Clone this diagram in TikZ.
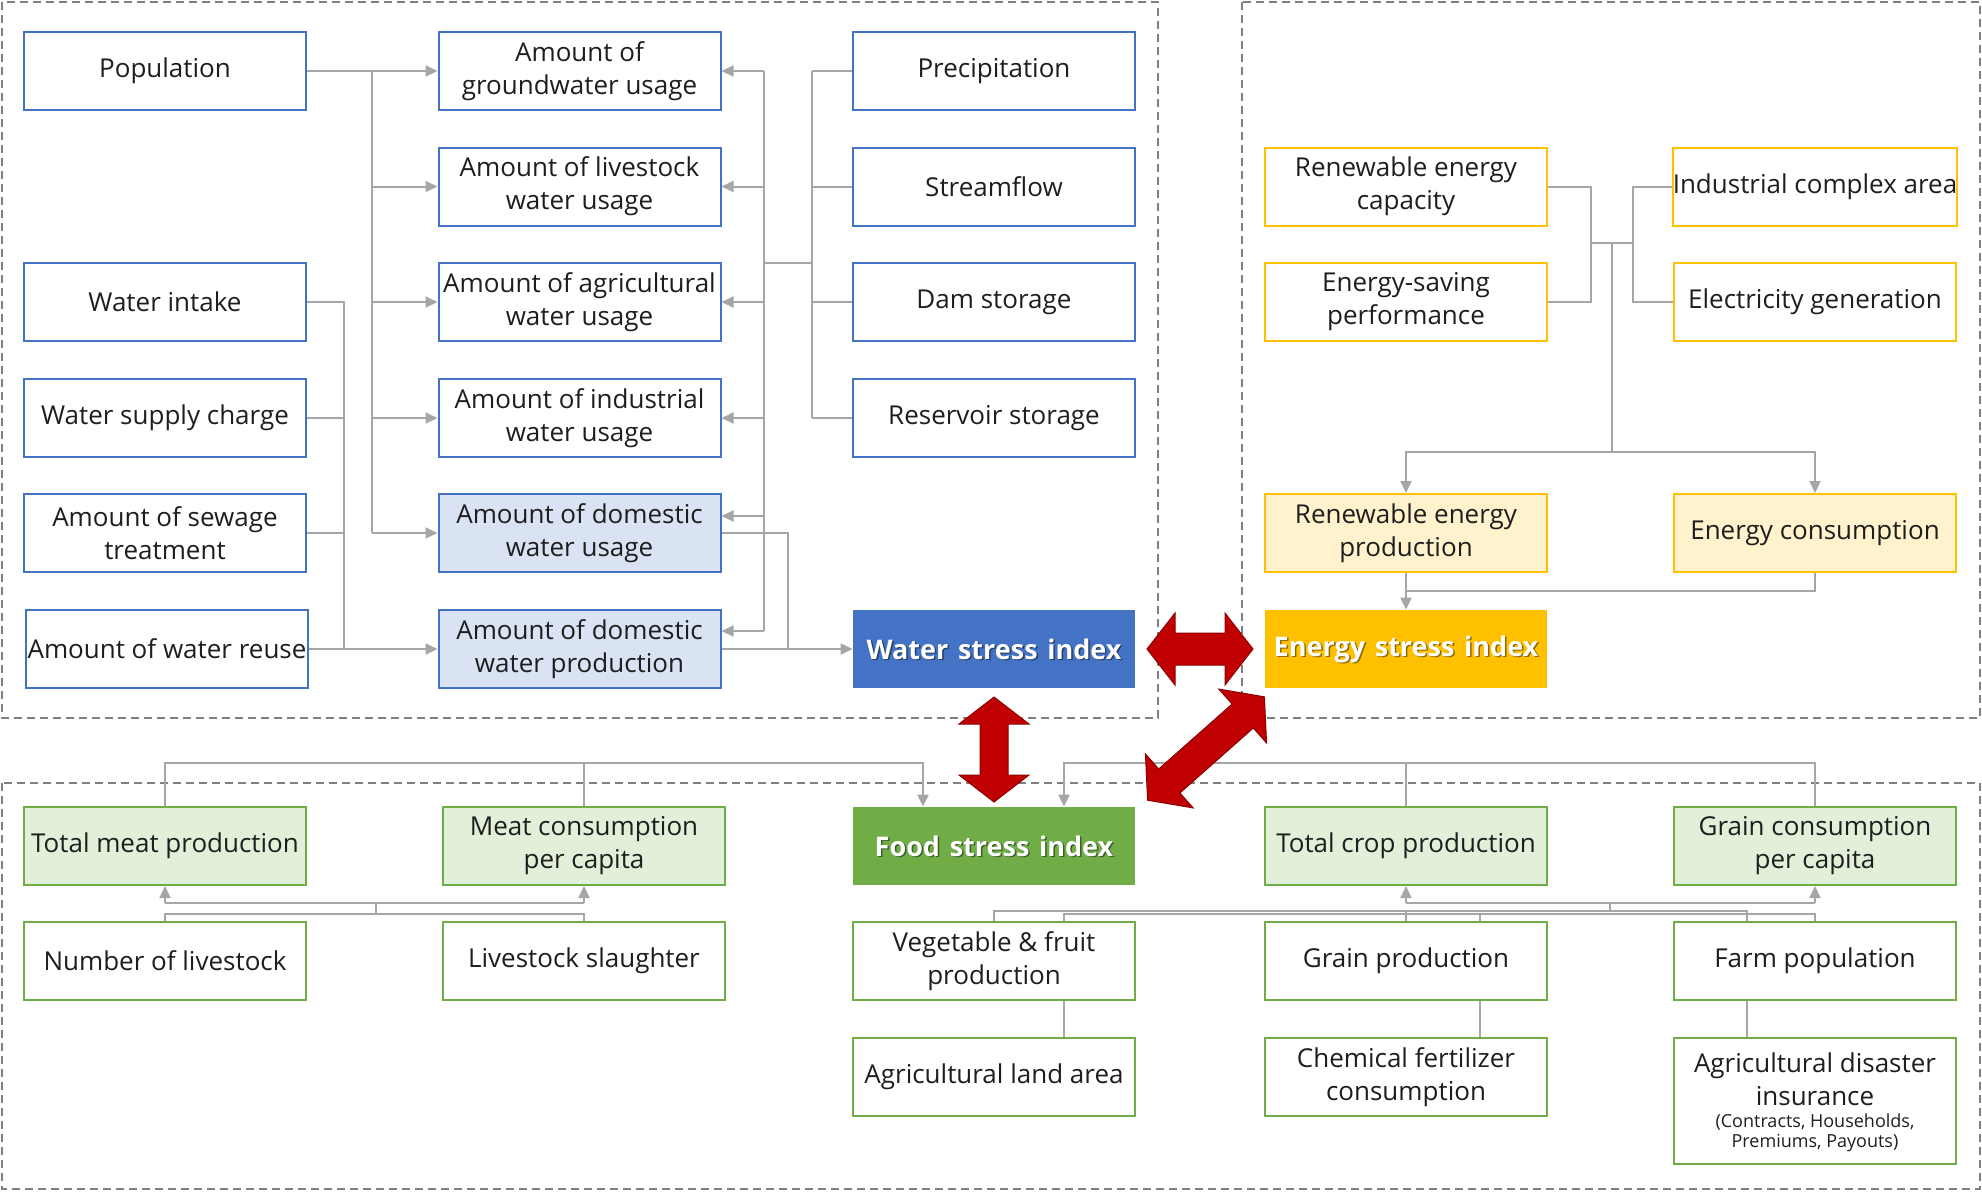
\documentclass[tikz,border=0pt]{standalone}
\usepackage{fontspec}
\setmainfont{Open Sans}
\usetikzlibrary{arrows.meta,calc}
\definecolor{wblue}{HTML}{4472C4}
\definecolor{wlight}{HTML}{DAE3F3}
\definecolor{eyel}{HTML}{FFC000}
\definecolor{elight}{HTML}{FFF2CC}
\definecolor{fgreen}{HTML}{70AD47}
\definecolor{flight}{HTML}{E2F0D9}
\definecolor{connc}{HTML}{A6A6A6}
\definecolor{bigred}{HTML}{C00000}
\definecolor{bigredd}{HTML}{8E0000}
\definecolor{framec}{HTML}{808080}
\definecolor{txtc}{HTML}{1E1E1E}
\tikzset{
  box/.style={draw, line width=1pt, minimum width=141pt, minimum height=39pt,
    align=center, inner sep=0pt, text=txtc, font=\fontsize{13}{16.5}\selectfont},
  wbox/.style={box, draw=wblue, fill=white},
  wboxl/.style={box, draw=wblue, fill=wlight},
  ebox/.style={box, draw=eyel, fill=white},
  eboxl/.style={box, draw=eyel, fill=elight},
  fbox/.style={box, draw=fgreen, fill=white},
  fboxl/.style={box, draw=fgreen, fill=flight},
  idxbox/.style={minimum width=141pt, minimum height=39pt, inner sep=0pt},
  idxtext/.style={text=white, inner sep=0pt, font=\fontsize{13.5}{16}\selectfont\bfseries},
  idxshadow/.style={text=black, opacity=0.45, inner sep=0pt, font=\fontsize{13.5}{16}\selectfont\bfseries},
  txt/.style={align=center, inner sep=0pt, text=txtc, font=\fontsize{13}{16.5}\selectfont},
  smalltxt/.style={align=center, inner sep=0pt, text=txtc, font=\fontsize{9}{10}\selectfont},
  line/.style={draw=connc, line width=1pt},
  arr/.style={line, -{Triangle[length=6pt,width=5.5pt]}},
  frm/.style={draw=framec, line width=0.6pt, dash pattern=on 4pt off 2.5pt},
  pics/redarrow/.style n args={4}{code={
    \filldraw[fill=bigred, draw=bigredd, line width=0.5pt]
      (-#1,0) -- (-#1+#2,#3) -- (-#1+#2,#4) -- (#1-#2,#4) -- (#1-#2,#3) -- (#1,0)
      -- (#1-#2,-#3) -- (#1-#2,-#4) -- (-#1+#2,-#4) -- (-#1+#2,-#3) -- cycle;
  }}
}
\newcommand{\wsp}{\hspace{0.36em}}
\begin{document}
\begin{tikzpicture}[x=0.5pt, y={(0pt,-0.5pt)}]
\useasboundingbox (0,0) rectangle (1982,1191);

% frames
\draw[frm] (2,2) rectangle (1158,718);
\draw[frm] (1242,2) rectangle (1980,718);
\draw[frm] (2,783) rectangle (1980,1189);

% ---------- water ----------
\node[wbox] (pop) at (165,71) {Population};
\node[wbox] (intake) at (165,302) {Water intake};
\node[wbox] (charge) at (165,418) {Water supply charge};
\node[wbox] (sewage) at (165,533) {Amount of sewage\\treatment};
\node[wbox] (reuse) at (167,649) {Amount of water reuse};
\node[wbox] (gw) at (579.5,71) {Amount of\\groundwater usage};
\node[wbox] (lsw) at (579.5,186.5) {Amount of livestock\\water usage};
\node[wbox] (agw) at (579.5,302) {Amount of agricultural\\water usage};
\node[wbox] (inw) at (579.5,418) {Amount of industrial\\water usage};
\node[wboxl] (dom) at (579.5,533) {Amount of domestic\\water usage};
\node[wboxl] (prod) at (579.5,649) {Amount of domestic\\water production};
\node[wbox] (prec) at (994,71) {Precipitation};
\node[wbox] (stream) at (994,186.5) {Streamflow};
\node[wbox] (dam) at (994,302) {Dam storage};
\node[wbox] (res) at (994,418) {Reservoir storage};
\node[idxbox, fill=wblue] (wsi) at (994,649) {};
\node[idxshadow] (wsis) at ($(wsi.center)+(1.5,1.5)$) {Water\wsp stress\wsp index};
\node[idxtext] (wsit) at (wsi.center) {Water\wsp stress\wsp index};

% ---------- energy ----------
\node[ebox] (rec) at (1406,186.5) {Renewable energy\\capacity};
\node[ebox] (esp) at (1406,302) {Energy-saving\\performance};
\node[ebox] (ica) at (1815,186.5) {Industrial complex area};
\node[ebox] (elg) at (1815,302) {Electricity generation};
\node[eboxl] (rep) at (1406,533) {Renewable energy\\production};
\node[eboxl] (ecn) at (1815,533) {Energy consumption};
\node[idxbox, fill=eyel] (esi) at (1406,649) {};
\node[idxshadow] (esis) at ($(esi.center)+(1.5,1.5)$) {Energy\wsp stress\wsp index};
\node[idxtext] (esit) at (esi.center) {Energy\wsp stress\wsp index};

% ---------- food ----------
\node[fboxl] (tmp) at (165,846) {Total meat production};
\node[fboxl] (mcp) at (584,846) {Meat consumption\\per capita};
\node[idxbox, fill=fgreen] (fsi) at (994,846) {};
\node[idxshadow] (fsis) at ($(fsi.center)+(1.5,1.5)$) {Food\wsp stress\wsp index};
\node[idxtext] (fsit) at (fsi.center) {Food\wsp stress\wsp index};
\node[fboxl] (tcp) at (1406,846) {Total crop production};
\node[fboxl] (gcp) at (1815,846) {Grain consumption\\per capita};
\node[fbox] (nol) at (165,961) {Number of livestock};
\node[fbox] (lsl) at (584,961) {Livestock slaughter};
\node[fbox] (vfp) at (994,961) {Vegetable \& fruit\\production};
\node[fbox] (grp) at (1406,961) {Grain production};
\node[fbox] (fpop) at (1815,961) {Farm population};
\node[fbox] (ala) at (994,1077) {Agricultural land area};
\node[fbox] (cfc) at (1406,1077) {Chemical fertilizer\\consumption};
\node[fbox, minimum height=63pt] (adi) at (1815,1101) {};
\node[txt] (adi1) at (1815,1079) {Agricultural disaster\\insurance};
\node[smalltxt] (adi2) at (1815,1133) {(Contracts, Households,\\Premiums, Payouts)};

% ---------- helper coordinates ----------
\coordinate (B1) at (372,0);
\coordinate (B2) at (344,0);
\coordinate (B3) at (764,0);
\coordinate (B5) at (788,0);
\coordinate (J1) at (812,263);
\coordinate (E1) at (1591,243);
\coordinate (E2) at (1633,243);
\coordinate (E3) at (1612,452);
\coordinate (E4) at (0,591);
\coordinate (F1) at (923,763);
\coordinate (F2) at (1064,763);
\coordinate (M1) at (0,903);
\coordinate (M2) at (376,914);
\coordinate (C2) at (1610,912);
\coordinate (LA) at (0,910.5);
\coordinate (LB) at (0,913.5);
\coordinate (X1) at (1064,0);
\coordinate (X2) at (1480,0);
\coordinate (X3) at (1747,0);

% ---------- water connectors ----------
\draw[arr] (pop.east) -- (gw.west);
\draw[line] (pop.east -| B1) -- (dom.west -| B1);
\foreach \n in {lsw,agw,inw,dom} \draw[arr] (\n.west -| B1) -- (\n.west);
\draw[line] (intake.east) -- (intake.east -| B2) -- (reuse.east -| B2);
\draw[line] (charge.east) -- (charge.east -| B2);
\draw[line] (sewage.east) -- (sewage.east -| B2);
\draw[arr] (reuse.east) -- (prod.west);
\draw[line] (gw.east -| B3) -- ($(prod.east -| B3)+(0,-18)$);
\foreach \n in {gw,lsw,agw,inw} \draw[arr] (\n.east -| B3) -- (\n.east);
\draw[arr] ($(dom.east -| B3)+(0,-17)$) -- ($(dom.east)+(0,-17)$);
\draw[arr] ($(prod.east -| B3)+(0,-18)$) -- ($(prod.east)+(0,-18)$);
\draw[line] (J1 -| B3) -- (J1);
\draw[line] (prec.west -| J1) -- (res.west -| J1);
\foreach \n in {prec,stream,dam,res} \draw[line] (\n.west -| J1) -- (\n.west);
\draw[line] (dom.east) -- (dom.east -| B5) -- (wsi.west -| B5);
\draw[arr] (prod.east) -- (wsi.west);

% ---------- energy connectors ----------
\draw[line] (rec.east) -- (rec.east -| E1) -- (esp.east -| E1) -- (esp.east);
\draw[line] (E1) -- (E2);
\draw[line] (ica.west) -- (ica.west -| E2) -- (elg.west -| E2) -- (elg.west);
\draw[line] (E3 |- E1) -- (E3);
\draw[arr] (E3) -| (rep.north);
\draw[arr] (E3) -| (ecn.north);
\draw[arr] (rep.south) -- (esi.north);
\draw[line] (ecn.south) |- (E4 -| esi.north);

% ---------- food connectors ----------
\draw[arr] (tmp.north) |- (F1) -- (F1 |- fsi.north);
\draw[line] (mcp.north) -- (mcp.north |- F1);
\draw[arr] (gcp.north) |- (F2) -- (F2 |- fsi.north);
\draw[line] (tcp.north) -- (tcp.north |- F1);

\draw[arr] (tmp.south |- M1) -- (tmp.south);
\draw[arr] (mcp.south |- M1) -- (mcp.south);
\draw[line] (tmp.south |- M1) -- (mcp.south |- M1);
\draw[line] (M2 |- M1) -- (M2);
\draw[line] (nol.north) |- (M2) -| (lsl.north);

\draw[arr] (tcp.south |- M1) -- (tcp.south);
\draw[arr] (gcp.south |- M1) -- (gcp.south);
\draw[line] (tcp.south |- M1) -- (gcp.south |- M1);
\draw[line] (C2 |- M1) -- (C2);
\draw[line] (vfp.north) |- (X3 |- LA) -- (X3 |- fpop.north);
\draw[line] (grp.north) -- (grp.north |- LA);
\draw[line] (X1 |- vfp.north) |- (fpop.north |- LB) -- (fpop.north);
\draw[line] (X2 |- grp.north) -- (X2 |- LB);
\draw[line] (X1 |- vfp.south) -- (X1 |- ala.north);
\draw[line] (X2 |- grp.south) -- (X2 |- cfc.north);
\draw[line] (X3 |- fpop.south) -- (X3 |- adi.north);

% ---------- big red arrows ----------
\pic at (1200,649) {redarrow={53}{28}{36}{16}};
\pic[rotate=90] at (994,749.5) {redarrow={52.5}{27}{35}{14}};
\pic[rotate=41.5] at (1206,748.5) {redarrow={78}{29}{36}{16}};
\end{tikzpicture}
\end{document}
